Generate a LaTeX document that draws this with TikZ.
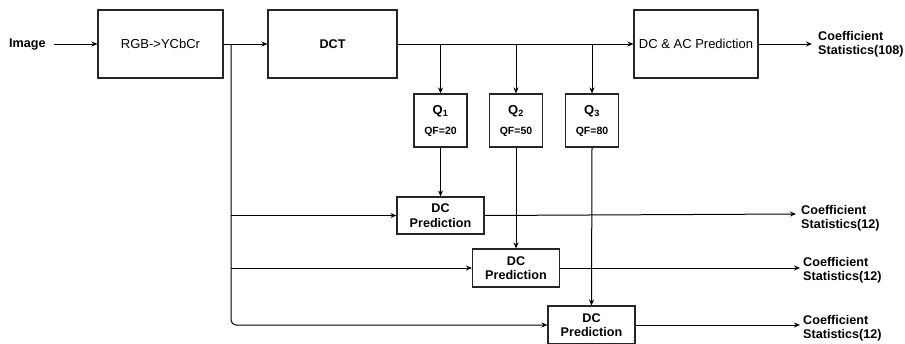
\documentclass[tikz,border=0pt]{standalone}
\usepackage{fontspec}
\setmainfont{Liberation Sans}
\usetikzlibrary{arrows.meta}
\begin{document}
\begin{tikzpicture}[x=1pt,y=-1pt,
  box/.style={draw=black!85,line width=1.1pt,inner sep=0pt,align=center,font=\fontsize{13}{14}\selectfont},
  bbox/.style={box,font=\bfseries\fontsize{12.6}{14.5}\selectfont},
  lbl/.style={inner sep=0pt,align=left,font=\bfseries\fontsize{12.6}{14}\selectfont},
  arr/.style={line width=1pt,-{Stealth[length=6pt,width=5pt]}},
  ln/.style={line width=1pt}]
\useasboundingbox (0,0) rectangle (905,343);
\node[lbl,anchor=west] (img) at (9,44) {Image};
\node[box,minimum width=125,minimum height=68] (rgb) at (160.5,44) {RGB->YCbCr};
\node[bbox,minimum width=129,minimum height=68] (dct) at (332.5,44) {DCT};
\node[box,minimum width=124,minimum height=68] (acp) at (696,44) {DC \& AC Prediction};
\node[lbl,anchor=west] (s0) at (818,44) {Coefficient\\Statistics(108)};
\node[bbox,minimum width=53,minimum height=53,font=\bfseries\fontsize{13}{14}\selectfont] (q1) at (440.5,120.5) {Q\textsubscript{1}\\[6pt]{\fontsize{10.5}{11}\selectfont QF=20}};
\node[bbox,minimum width=53,minimum height=53,font=\bfseries\fontsize{13}{14}\selectfont] (q2) at (516,120.5) {Q\textsubscript{2}\\[6pt]{\fontsize{10.5}{11}\selectfont QF=50}};
\node[bbox,minimum width=53,minimum height=53,font=\bfseries\fontsize{13}{14}\selectfont] (q3) at (592,120.5) {Q\textsubscript{3}\\[6pt]{\fontsize{10.5}{11}\selectfont QF=80}};
\node[bbox,minimum width=87,minimum height=37] (d1) at (440.5,215.5) {DC\\Prediction};
\node[bbox,minimum width=87,minimum height=38] (d2) at (516,268) {DC\\Prediction};
\node[bbox,minimum width=87,minimum height=38] (d3) at (591.5,325) {DC\\Prediction};
\node[lbl,anchor=west] (s1) at (801,218) {Coefficient\\Statistics(12)};
\node[lbl,anchor=west] (s2) at (803,270) {Coefficient\\Statistics(12)};
\node[lbl,anchor=west] (s3) at (803,328) {Coefficient\\Statistics(12)};
\coordinate (b0) at (231,44);
\coordinate (e0) at (812,44);
\coordinate (e1) at (796,214);
\coordinate (e2) at (800,268);
\coordinate (e3) at (800,325);
\draw[arr] (img.east) ++(8,0) -- (rgb.west);
\draw[arr] (rgb.east) -- (dct.west);
\draw[arr] (dct.east) -- (acp.west);
\draw[arr] (acp.east) -- (e0);
\draw[arr] (q1.north |- dct.east) -- (q1.north);
\draw[arr] (q2.north |- dct.east) -- (q2.north);
\draw[arr] (q3.north |- dct.east) -- (q3.north);
\draw[arr] (q1.south) -- (d1.north);
\draw[arr] (q2.south) -- (d2.north);
\draw[arr] (q3.south) -- (d3.north);
\draw[arr,rounded corners=5pt] (b0) -- (b0 |- d3.west) -- (d3.west);
\draw[arr] (b0 |- d1.west) -- (d1.west);
\draw[arr] (b0 |- d2.west) -- (d2.west);
\draw[arr] (d1.east) -- (e1);
\draw[arr] (d2.east) -- (e2);
\draw[arr] (d3.east) -- (e3);
\end{tikzpicture}
\end{document}
